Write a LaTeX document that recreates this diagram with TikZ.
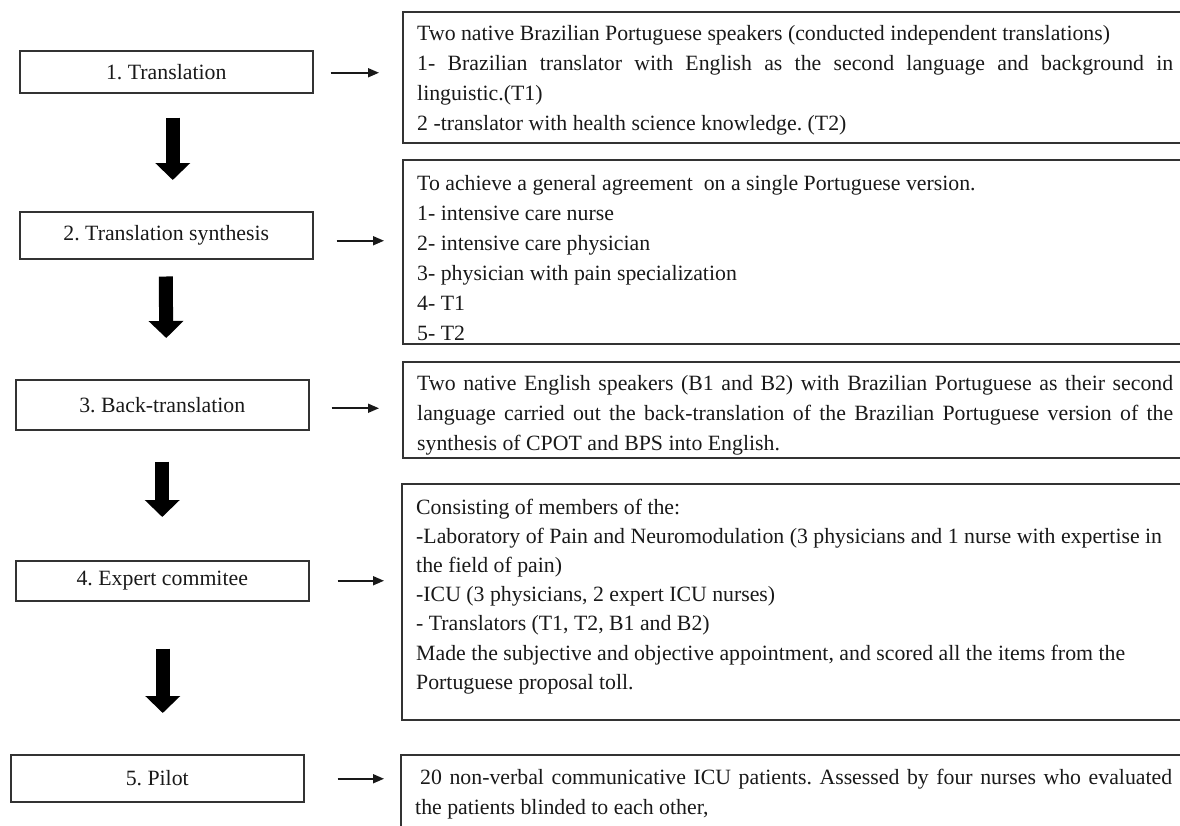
\documentclass[tikz,border=0pt]{standalone}
\usepackage{fontspec}
\setmainfont{Liberation Serif}
\usetikzlibrary{arrows.meta,calc}
\frenchspacing
\begin{document}
\begin{tikzpicture}[x=1pt,y=-1pt,
  every node/.style={font=\fontsize{21.8}{30}\selectfont\frenchspacing, text=black!90},
  lbox/.style={draw=black!80, line width=1.5pt, anchor=north west, inner sep=0pt, minimum width=293pt},
  rbox/.style={draw=black!80, line width=1.5pt, anchor=north west, inner sep=0pt, minimum width=800pt},
  rtext/.style={anchor=north west, inner sep=0pt, align=left},
  harrow/.style={line width=1.7pt, draw=black!90, -{Triangle[length=11pt,width=9pt]}},
  varrow/.style={line width=14pt, draw=black, -{Triangle[length=17pt,width=34pt]}},
]
\useasboundingbox (0,0) rectangle (1180,825);
\clip (0,0) rectangle (1180,825);

% left boxes
\node[lbox, minimum height=42pt] (b1) at (19,50)  {1. Translation};
\node[lbox, minimum height=47pt] (b2) at (19,211) {2. Translation synthesis};
\node[lbox, minimum height=50pt] (b3) at (15,379) {3. Back-translation};
\node[lbox, minimum height=40pt] (b4) at (15,560) {4. Expert commitee};
\node[lbox, minimum height=47pt] (b5) at (10,754) {5. Pilot};

% right boxes
\node[rbox, minimum height=131pt] (r1) at (402,11)  {};
\node[rbox, minimum height=184pt] (r2) at (402,159) {};
\node[rbox, minimum height=96pt]  (r3) at (402,361) {};
\node[rbox, minimum height=236pt] (r4) at (401,483) {};
\node[rbox, minimum height=100pt] (r5) at (400,754) {};

% right texts
\node[rtext] (t1) at ($(r1.north west)+(15,8.5)$) {\strut Two native Brazilian Portuguese speakers (conducted independent translations)\\
\makebox[756pt][s]{1- Brazilian translator with English as the second language and background in}\\
linguistic.(T1)\\
2 -translator with health science knowledge. (T2)};

\node[rtext] (t2) at ($(r2.north west)+(15,10)$) {\strut To achieve a general agreement\ \ on a single Portuguese version.\\
1- intensive care nurse\\
2- intensive care physician\\
3- physician with pain specialization\\
4- T1\\
5- T2};

\node[rtext] (t3) at ($(r3.north west)+(15,8.5)$) {\strut\makebox[756pt][s]{Two native English speakers (B1 and B2) with Brazilian Portuguese as their second}\\
\makebox[756pt][s]{language carried out the back-translation of the Brazilian Portuguese version of the}\\
synthesis of CPOT and BPS into English.};

\node[rtext, font=\fontsize{21.8}{29.2}\selectfont\frenchspacing] (t4) at ($(r4.north west)+(15,10.5)$) {\strut Consisting of members of the:\\
-Laboratory of Pain and Neuromodulation (3 physicians and 1 nurse with expertise in\\
the field of pain)\\
-ICU (3 physicians, 2 expert ICU nurses)\\
- Translators (T1, T2, B1 and B2)\\
Made the subjective and objective appointment, and scored all the items from the\\
Portuguese proposal toll.};

\node[rtext] (t5) at ($(r5.north west)+(15,9.5)$) {\strut\makebox[757pt][s]{\hspace*{5pt}20 non-verbal communicative ICU patients. Assessed by four nurses who evaluated}\\
the patients blinded to each other,};

% horizontal arrows
\draw[harrow] ($(b1.east)+(17,1)$) -- ($(b1.east -| r1.west)+(-23,1)$);
\draw[harrow] ($(b2.east)+(23,5.5)$) -- ($(b2.east -| r2.west)+(-18,5.5)$);
\draw[harrow] ($(b3.east)+(22,3.5)$) -- ($(b3.east -| r3.west)+(-23,3.5)$);
\draw[harrow] ($(b4.east)+(28,0)$) -- ($(b4.east -| r4.west)+(-17,0)$);
\draw[harrow] ($(b5.east)+(33,0.5)$) -- ($(b5.east -| r5.west)+(-16,0.5)$);

% thick down arrows
\draw[varrow] ($(b1.south)+(6.5,24)$) -- ($(b2.north)+(6.5,-31)$);
\draw[varrow] ($(b2.south)+(-0.5,17)$) -- ($(b3.north)+(4,-41)$);
\draw[varrow] ($(b3.south)+(0,31)$) -- ($(b4.north)+(0,-43)$);
\draw[varrow] ($(b4.south)+(0.5,47)$) -- ($(b5.north)+(5.5,-41)$);
\end{tikzpicture}
\end{document}
